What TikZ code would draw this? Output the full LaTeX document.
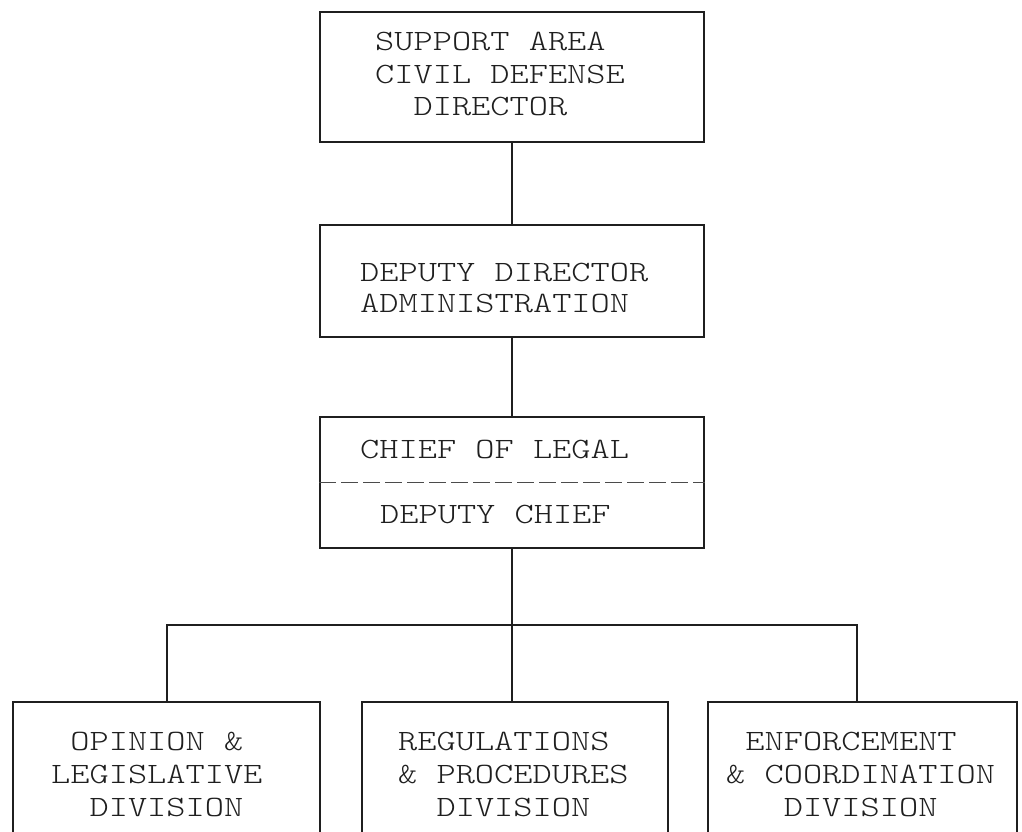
\documentclass[tikz,border=0pt]{standalone}
\usepackage{fontspec}
% light typewriter face, widened to typewriter pitch
\newfontfamily\typefont[Extension=.otf, FakeStretch=1.24]{lmmonolt10-regular}
\definecolor{ink}{gray}{0.12}
\begin{document}
\begin{tikzpicture}[x=1pt, y=-1pt,
  box/.style={draw=ink, line width=1.4pt, inner sep=0pt, fill=none},
  upperbox/.style={box, minimum width=384pt},
  lowerbox/.style={box, minimum height=160pt},
  label/.style={inner sep=0pt, anchor=north west, align=left, text=ink,
    font=\typefont\fontsize{29.5}{32.5}\selectfont},
  lowlabel/.style={label, font=\typefont\fontsize{29.5}{33.2}\selectfont},
  wire/.style={draw=ink, line width=1.4pt},
  split/.style={draw=ink!80, line width=1pt, dash pattern=on 17pt off 5pt}]
\useasboundingbox (0,0) rectangle (1022,832);
\clip (0,0) rectangle (1022,832);

% chain of command
\node[upperbox, minimum height=130pt] (director) at (512,77) {};
\node[upperbox, minimum height=112pt] (deputy) at (512,281) {};
\node[upperbox, minimum height=131pt] (legal) at (512,482.5) {};
\draw[split] (legal.west) -- (legal.east);

% divisions (running off the lower edge)
\node[lowerbox, minimum width=307pt] (opinion) at (166.5,782) {};
\node[lowerbox, minimum width=306pt] (regs) at (515,782) {};
\node[lowerbox, minimum width=309pt] (enforce) at (862.5,782) {};

% texts
\node[label] (directortext) at (375,32)
  {SUPPORT AREA\\CIVIL DEFENSE\\\phantom{XX}DIRECTOR};
\node[label, font=\typefont\fontsize{29.5}{30.5}\selectfont] (deputytext) at (360,263)
  {DEPUTY DIRECTOR\\ADMINISTRATION};
\node[label] (legaltext) at (360,440) {CHIEF OF LEGAL};
\node[label] (deputycheftext) at (380,505) {DEPUTY CHIEF};
\node[lowlabel] (opiniontext) at (51,732)
  {\phantom{X}OPINION \&\\LEGISLATIVE\\\phantom{XX}DIVISION};
\node[lowlabel] (regstext) at (398,732)
  {REGULATIONS\\\& PROCEDURES\\\phantom{XX}DIVISION};
\node[lowlabel] (enforcetext) at (726,732)
  {\phantom{X}ENFORCEMENT\\\& COORDINATION\\\phantom{XXX}DIVISION};

% connectors
\coordinate (busL) at (167,625);
\coordinate (busR) at (857,625);
\draw[wire] (director.south) -- (deputy.north);
\draw[wire] (deputy.south) -- (legal.north);
\draw[wire] (legal.south) -- (legal.south |- regs.north);
\draw[wire] (busL |- opinion.north) -- (busL) -- (busR) -- (busR |- enforce.north);
\end{tikzpicture}
\end{document}
